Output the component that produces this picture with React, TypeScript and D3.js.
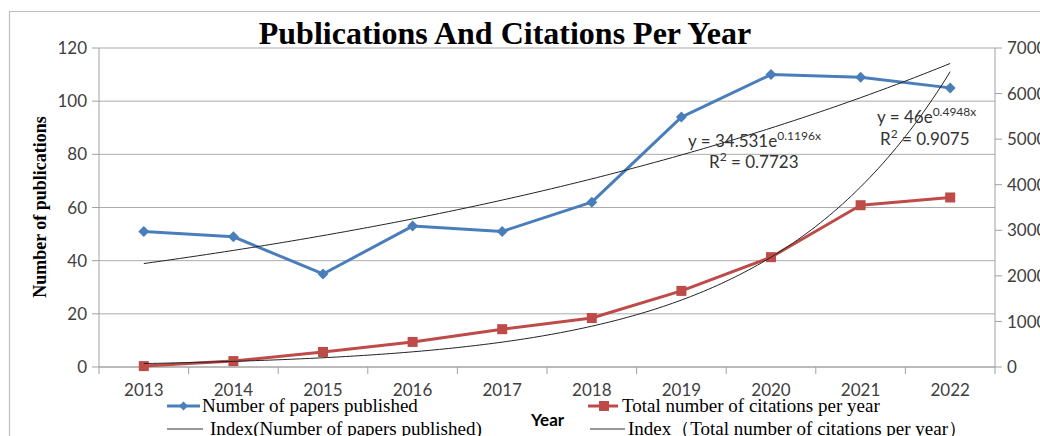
import React from "react";
import * as d3 from "d3";

const years = ["2013", "2014", "2015", "2016", "2017", "2018", "2019", "2020", "2021", "2022"];
const publications = [51, 49, 35, 53, 51, 62, 94, 110, 109, 105];
const citations = [20, 130, 330, 550, 830, 1075, 1670, 2410, 3550, 3720];
const leftTicks = [0, 20, 40, 60, 80, 100, 120];
const rightTicks = [0, 1000, 2000, 3000, 4000, 5000, 6000, 7000];
// exponential trendline coefficients shown on the chart: y = a * e^(b x), x = 1..10
const pubFit = { a: 34.531, b: 0.1196, r2: "0.7723" };
const citFit = { a: 46, b: 0.4948, r2: "0.9075" };

const W = 1040;
const H = 436;
const M = { left: 99, right: 995, top: 48, bottom: 367 };

const BLUE = "#4A7EBB";
const RED = "#BE4B48";
const SANS = "Lato, 'Open Sans', sans-serif";
const SERIF = "'Liberation Serif', 'DejaVu Serif', serif";

export default function App() {
  const x = d3.scaleBand<string>().domain(years).range([M.left, M.right]).padding(0);
  const cx = (d: string) => (x(d) as number) + x.bandwidth() / 2;
  const yL = d3.scaleLinear().domain([0, 120]).range([M.bottom, M.top]);
  const yR = d3.scaleLinear().domain([0, 7000]).range([M.bottom, M.top]);
  const xIdx = d3.scaleLinear().domain([1, years.length]).range([cx(years[0]), cx(years[years.length - 1])]);

  const pubLine = d3.line<number>().x((_, i) => cx(years[i])).y((d) => yL(d));
  const citLine = d3.line<number>().x((_, i) => cx(years[i])).y((d) => yR(d));

  const ts = d3.range(1, years.length + 0.001, 0.05);
  const trendPub = d3.line<number>().x((t) => xIdx(t)).y((t) => yL(pubFit.a * Math.exp(pubFit.b * t)))(ts) as string;
  const trendCit = d3.line<number>().x((t) => xIdx(t)).y((t) => yR(citFit.a * Math.exp(citFit.b * t)))(ts) as string;

  const boundaries = years.map((d) => x(d) as number).concat([M.right]);

  const diamond = (px: number, py: number, r: number) =>
    `M${px},${py - r}L${px + r},${py}L${px},${py + r}L${px - r},${py}Z`;

  return (
    <svg width={W} height={H} style={{ position: "absolute", left: 0, top: 0, background: "#fff" }}>
      <rect x={0} y={0} width={W} height={H} fill="#fff" />
      {/* outer border */}
      <path d={`M9.5,${H}V11.5H${W}`} fill="none" stroke="#bdbdbd" strokeWidth={1.2} />

      {/* gridlines */}
      {leftTicks.map((t) => (
        <line key={"g" + t} x1={M.left} x2={M.right} y1={yL(t)} y2={yL(t)} stroke="#ababab" strokeWidth={1} />
      ))}
      {/* axes */}
      <line x1={M.left} x2={M.left} y1={M.top} y2={M.bottom} stroke="#a0a0a0" />
      <line x1={M.right} x2={M.right} y1={M.top} y2={M.bottom} stroke="#a0a0a0" />
      <line x1={M.left} x2={M.right} y1={M.bottom} y2={M.bottom} stroke="#a0a0a0" />

      {/* left ticks */}
      {leftTicks.map((t) => (
        <g key={"l" + t}>
          <line x1={M.left - 7} x2={M.left} y1={yL(t)} y2={yL(t)} stroke="#a0a0a0" />
          <text x={87} y={yL(t)} dy="0.36em" textAnchor="end" fontFamily={SANS} fontSize={17} fill="#404040">
            {t}
          </text>
        </g>
      ))}
      {/* right ticks */}
      {rightTicks.map((t) => (
        <g key={"r" + t}>
          <line x1={M.right} x2={M.right + 7} y1={yR(t)} y2={yR(t)} stroke="#a0a0a0" />
          <text x={1007} y={yR(t)} dy="0.36em" textAnchor="start" fontFamily={SANS} fontSize={17} fill="#404040">
            {t}
          </text>
        </g>
      ))}
      {/* x ticks */}
      {boundaries.map((b, i) => (
        <line key={"xt" + i} x1={b} x2={b} y1={M.bottom} y2={M.bottom + 7} stroke="#a0a0a0" />
      ))}
      {years.map((d) => (
        <text key={"xl" + d} x={cx(d)} y={396} textAnchor="middle" fontFamily={SANS} fontSize={17} fill="#404040">
          {d}
        </text>
      ))}

      {/* series */}
      <path d={pubLine(publications) as string} fill="none" stroke={BLUE} strokeWidth={3} strokeLinejoin="round" />
      {publications.map((v, i) => (
        <path key={"pm" + i} d={diamond(cx(years[i]), yL(v), 5.5)} fill={BLUE} />
      ))}
      <path d={citLine(citations) as string} fill="none" stroke={RED} strokeWidth={3} strokeLinejoin="round" />
      {citations.map((v, i) => (
        <rect key={"cm" + i} x={cx(years[i]) - 5} y={yR(v) - 5} width={10} height={10} fill={RED} />
      ))}

      {/* trendlines */}
      <path d={trendPub} fill="none" stroke="#222" strokeWidth={1} />
      <path d={trendCit} fill="none" stroke="#222" strokeWidth={1} />

      {/* trend equations */}
      <g fontFamily={SANS} fontSize={17} fill="#333">
        <text x={688} y={147}>
          y = {pubFit.a}e
          <tspan fontSize={12} dy={-7}>{pubFit.b}x</tspan>
        </text>
        <text x={709} y={168}>
          R<tspan fontSize={12} dy={-7}>2</tspan>
          <tspan dy={7}> = {pubFit.r2}</tspan>
        </text>
        <text x={877} y={123}>
          y = {citFit.a}e
          <tspan fontSize={12} dy={-7}>{citFit.b}x</tspan>
        </text>
        <text x={880} y={145}>
          R<tspan fontSize={12} dy={-7}>2</tspan>
          <tspan dy={7}> = {citFit.r2}</tspan>
        </text>
      </g>

      {/* title */}
      <text x={505} y={44} textAnchor="middle" fontFamily={SERIF} fontWeight="bold" fontSize={32} fill="#000">
        Publications And Citations Per Year
      </text>

      {/* y axis title */}
      <text
        transform={`translate(46,207) rotate(-90)`}
        textAnchor="middle"
        fontFamily={SERIF}
        fontWeight="bold"
        fontSize={18}
        fill="#000"
      >
        Number of publications
      </text>

      {/* x axis title */}
      <text x={531} y={426} fontFamily={SANS} fontWeight="bold" fontSize={17} fill="#000">
        Year
      </text>

      {/* legend */}
      <g fontFamily={SERIF} fontSize={19} fill="#000">
        <line x1={167} x2={200} y1={406} y2={406} stroke={BLUE} strokeWidth={3} />
        <path d={diamond(183.5, 406, 4.5)} fill={BLUE} />
        <text x={202} y={412}>Number of papers published</text>

        <line x1={167} x2={203} y1={429} y2={429} stroke="#333" strokeWidth={1} />
        <text x={210} y={435}>Index(Number of papers published)</text>

        <line x1={588} x2={618} y1={406} y2={406} stroke={RED} strokeWidth={3} />
        <rect x={599} y={401} width={10} height={10} fill={RED} />
        <text x={622} y={412}>Total number of citations per year</text>

        <line x1={590} x2={625} y1={429} y2={429} stroke="#333" strokeWidth={1} />
        <text x={628} y={435}>Index（Total number of citations per year）</text>
      </g>
    </svg>
  );
}
